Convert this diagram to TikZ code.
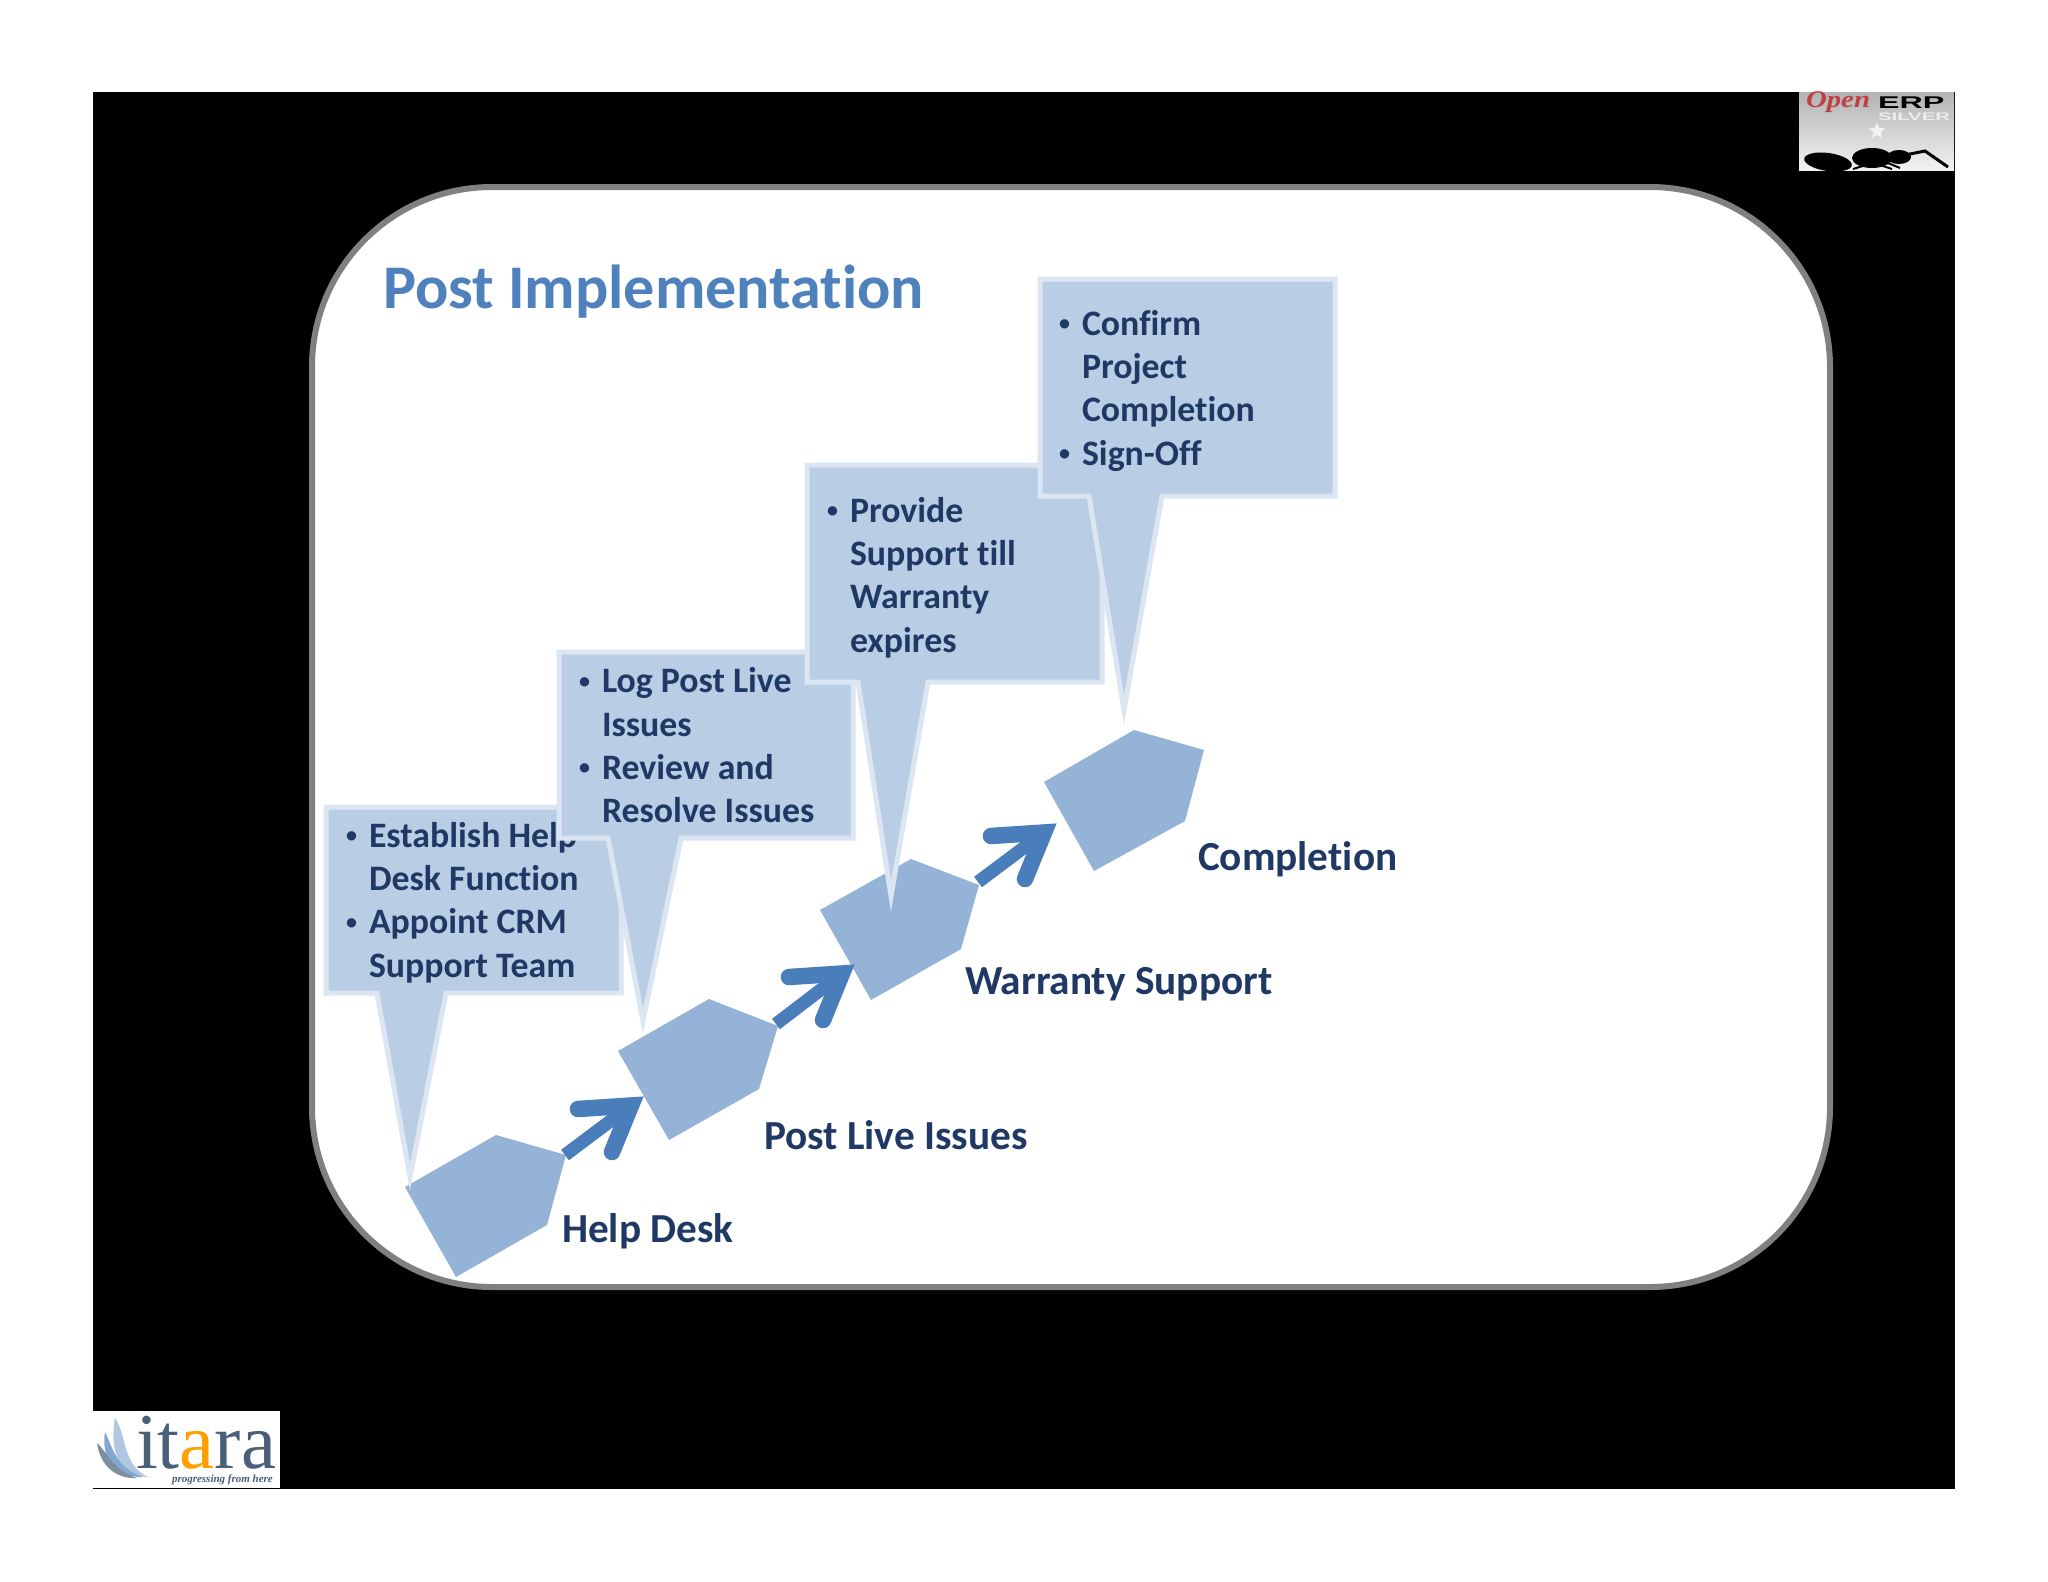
\documentclass[tikz,border=0pt]{standalone}
\usepackage{fontspec}
\setmainfont{Carlito}[Ligatures=NoCommon]
\newfontfamily\logoserif{Liberation Serif}
\newfontfamily\logosans{Liberation Sans}
\usetikzlibrary{positioning}
\usetikzlibrary{shapes.geometric}

\definecolor{noteblue}{HTML}{B9CDE5}
\definecolor{noteedge}{HTML}{DCE6F2}
\definecolor{stepblue}{HTML}{95B3D7}
\definecolor{flowblue}{HTML}{4A7EBB}
\definecolor{inkblue}{HTML}{1F3864}
\definecolor{slate}{HTML}{4A5F78}
\definecolor{titleblue}{HTML}{4F81BD}

\newcommand{\bul}{\llap{\raisebox{4.5pt}{\fontsize{22}{22}\selectfont\textbullet}\hspace{12pt}}}

\begin{document}
\begin{tikzpicture}
    [ x=1pt, y=-1pt, inner sep=0pt, outer sep=0pt,
    stepshape/.style={fill=stepblue},
    callout/.style={fill=noteblue, draw=noteedge, line width=5pt, line join=miter, miter limit=12},
    notetext/.style={anchor=north west, align=left, text=inkblue, font=\fontsize{35.8}{43.4}\selectfont\bfseries},
    steplabel/.style={anchor=base west, text=inkblue, font=\fontsize{41.3}{48}\selectfont\bfseries},
    flowshaft/.style={draw=flowblue, line width=13pt},
    flowhead/.style={draw=flowblue, line width=16.5pt, line cap=round, line join=miter}
    ]

    \useasboundingbox (0,0) rectangle (2048,1582);
    \fill[black] (93,92) rectangle (1955,1489);
    \draw[fill=white, draw=gray, line width=6pt, rounded corners=180pt]
      (312,187) rectangle (1830,1287);

    \node[anchor=base west, text=titleblue, font=\fontsize{62.1}{70}\selectfont\bfseries]
      (title) at (383,308) {Post Implementation};

    % steps
    \fill[stepshape] (405,1187) -- (496,1135) -- (566,1155) -- (547,1225) -- (456,1277) -- cycle;
    \fill[stepshape] (618,1051) -- (709,999) -- (778,1026) -- (759,1089) -- (669,1140) -- cycle;
    \fill[stepshape] (820,910) -- (911,859) -- (979,885) -- (961,949) -- (871,1000) -- cycle;
    \fill[stepshape] (1044,782) -- (1134,730) -- (1204,750) -- (1185,821) -- (1094,871) -- cycle;

    \coordinate (hdOut) at (565,1155);
    \coordinate (plIn)  at (644,1095);
    \coordinate (plOut) at (776,1024);
    \coordinate (wsIn)  at (855,963);
    \coordinate (wsOut) at (978,882);
    \coordinate (coIn)  at (1057,822);

    \foreach \a/\b in {hdOut/plIn, plOut/wsIn, wsOut/coIn} {
      \draw[flowshaft] (\a) -- ([shift={(-13,10.5)}]\b);
      \draw[flowhead] ([shift={(-66,14)}]\b) -- ([shift={(-13,10.5)}]\b) -- ([shift={(-32,57)}]\b);
    }

    \node[steplabel] (helpdesk)  at (562,1242) {Help Desk};
    \node[steplabel] (postlive)  at (764,1149) {Post Live Issues};
    \node[steplabel] (warranty)  at (965,994) {Warranty Support};
    \node[steplabel] (complete)  at (1198,870) {Completion};

    % notes, each one on top of the last
    \draw[callout] (326,807) -- (621,807) -- (621,993) -- (446,993) -- (410,1177) -- (377,993) -- (326,993) -- cycle;
    \node[notetext] (note1) at (369,822) {\bul Establish Help\\Desk Function\\\bul Appoint CRM\\Support Team};

    \draw[callout] (559,652) -- (853,652) -- (853,838) -- (681,838) -- (643,1021) -- (608,838) -- (559,838) -- cycle;
    \node[notetext] (note2) at (602,667.5) {\bul Log Post Live\\Issues\\\bul Review and\\Resolve Issues};

    \draw[callout] (807,465) -- (1102,465) -- (1102,682) -- (928,682) -- (891,896) -- (858,682) -- (807,682) -- cycle;
    \node[notetext] (note3) at (850,497) {\bul Provide\\Support till\\Warranty\\expires};

    \draw[callout] (1040,279) -- (1335,279) -- (1335,496) -- (1162,496) -- (1124,710) -- (1089,496) -- (1040,496) -- cycle;
    \node[notetext] (note4) at (1082,310) {\bul Confirm\\Project\\Completion\\\bul Sign-Off};

    % openerp badge
    \shade[top color=gray!60!white, bottom color=gray!10!white] (1799,92) rectangle (1954,170);
    \node[anchor=base west, text=red!50!gray, xscale=1.2, font=\fontsize{24}{24}\selectfont\logoserif\itshape\bfseries] (open) at (1806,107) {Open};
    \node[anchor=base west, text=black, xscale=1.9, font=\fontsize{17}{17}\selectfont\logosans\bfseries] (erp) at (1878,108) {ERP};
    \node[anchor=base west, text=white!85!gray, xscale=1.85, font=\fontsize{11}{11}\selectfont\logosans\bfseries] (silver) at (1878,120) {SILVER};
    \node[star, star points=5, star point ratio=2.2, fill=white!90!gray, minimum size=17pt] (badgestar) at (1877,131) {};
    \fill[black, rotate around={-8:(1828,162)}] (1828,162) ellipse (24 and 9);
    \fill[black] (1872,158) ellipse (20 and 10);
    \fill[black] (1899,157) ellipse (12 and 7);
    \draw[black, line width=3pt] (1905,155) -- (1925,151) -- (1948,167);
    \draw[black, line width=2pt] (1866,165) -- (1853,169) (1880,165) -- (1892,169) (1888,163) -- (1900,168);

    % itara logo
    \fill[white] (93,1411) rectangle (280,1488);
    \fill[fill=titleblue!45!white] (115,1418) .. controls (127,1435) and (122,1465) .. (148,1477) .. controls (125,1476) and (108,1460) .. (115,1418) -- cycle;
    \fill[fill=titleblue!70!white] (105,1432) .. controls (112,1445) and (115,1468) .. (143,1477) .. controls (120,1478) and (100,1462) .. (105,1432) -- cycle;
    \fill[fill=slate!70!white] (97,1443) .. controls (106,1450) and (112,1470) .. (137,1478) .. controls (115,1479) and (100,1465) .. (97,1443) -- cycle;
    \node[anchor=base west, text=slate, font=\fontsize{79}{79}\selectfont\logoserif] (itara) at (136,1468)
      {it\textcolor{orange!75!yellow}{a}ra};
    \node[anchor=base west, text=slate, font=\fontsize{11}{12}\selectfont\logoserif\itshape\bfseries] (tagline) at (172,1482)
      {progressing from here};
\end{tikzpicture}
\end{document}
